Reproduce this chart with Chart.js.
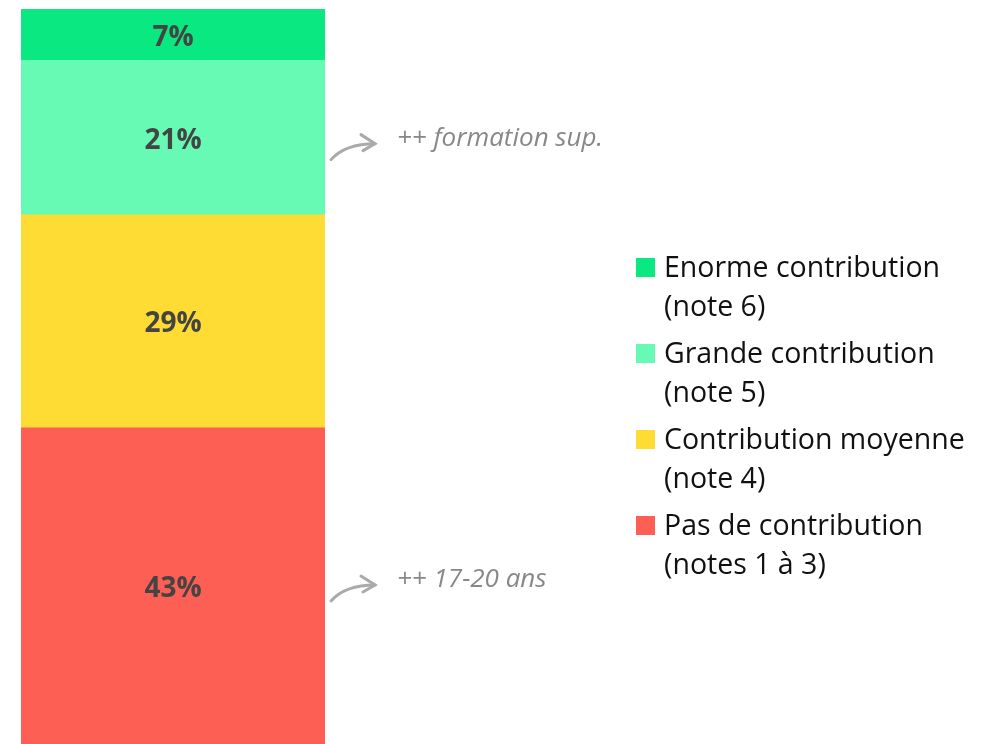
<!DOCTYPE html>
<html><head><meta charset="utf-8">
<script src="https://cdn.jsdelivr.net/npm/chart.js@4"></script>
<style>
html,body{margin:0;padding:0;background:#fff;}
#wrap{position:relative;width:991px;height:744px;}
#legend{position:absolute;left:636px;top:247px;font-family:"Open Sans","Noto Sans",sans-serif;font-size:28.5px;color:#111;}
.item{display:flex;align-items:flex-start;margin-bottom:8px;line-height:39px;}
.sw{width:19px;height:19px;margin-top:11px;margin-right:9px;flex:none;}
</style></head>
<body><div id="wrap"><canvas id="c" width="991" height="744"></canvas><div id="legend"></div></div>
<script>
const categories = ["Contribution"];
const seriesNames = [["Pas de contribution","(notes 1 à 3)"],["Contribution moyenne","(note 4)"],["Grande contribution","(note 5)"],["Enorme contribution","(note 6)"]];
const seriesValues = [43, 29, 21, 7];
const seriesColors = ["#fe5f55","#fedc33","#66fab4","#0ae882"];
const annotationSeries = [2, 0];
const annotationTexts = ["++ formation sup.", "++ 17-20 ans"];
const annotationNudge = [0, -7]; // pixel nudge for styling

const legend = document.getElementById('legend');
for (let i = seriesNames.length-1; i>=0; i--) {
  const d = document.createElement('div'); d.className='item';
  d.innerHTML = '<div class="sw" style="background:'+seriesColors[i]+'"></div><div>'+seriesNames[i].join('<br>')+'</div>';
  legend.appendChild(d);
}

const labelPlugin = {
  id:'labels',
  afterDatasetsDraw(chart){
    const ctx = chart.ctx;
    ctx.save();
    chart.data.datasets.forEach((ds,i)=>{
      const el = chart.getDatasetMeta(i).data[0];
      const yc = (el.y + el.base)/2;
      ctx.fillStyle = '#444';
      ctx.font = 'bold 28px "Open Sans", "Noto Sans", sans-serif';
      ctx.textAlign='center'; ctx.textBaseline='middle';
      ctx.fillText(ds.data[0]+'%', el.x, yc+3);
    });
    annotationSeries.forEach((s,k)=>{
      const el = chart.getDatasetMeta(s).data[0];
      const yc = (el.y + el.base)/2 + annotationNudge[k];
      const x0 = el.x + el.width/2 + 6;
      ctx.strokeStyle='#aaa'; ctx.lineWidth=3; ctx.lineCap='round';
      ctx.beginPath();
      ctx.moveTo(x0, yc+22);
      ctx.quadraticCurveTo(x0+14, yc+6, x0+44, yc+6);
      ctx.stroke();
      ctx.beginPath();
      ctx.moveTo(x0+30, yc-3);
      ctx.lineTo(x0+44, yc+6);
      ctx.lineTo(x0+32, yc+13);
      ctx.stroke();
      ctx.fillStyle='#888';
      ctx.font='italic 26px "Open Sans", "Noto Sans", sans-serif';
      ctx.textAlign='left'; ctx.textBaseline='middle';
      ctx.fillText(annotationTexts[k], x0+66, yc+1);
    });
    ctx.restore();
  }
};

new Chart(document.getElementById('c'), {
  type:'bar',
  data:{labels:categories, datasets: seriesValues.map((v,i)=>({label:seriesNames[i].join(' '), data:[v], backgroundColor:seriesColors[i], borderWidth:0, barPercentage:1, categoryPercentage:1}))},
  options:{
    responsive:false, animation:false,
    layout:{padding:{left:21,right:991-325,top:9,bottom:0}},
    plugins:{legend:{display:false},tooltip:{enabled:false}},
    scales:{x:{stacked:true,display:false},y:{stacked:true,display:false,min:0,max:100}}
  },
  plugins:[labelPlugin]
});
</script></body></html>
